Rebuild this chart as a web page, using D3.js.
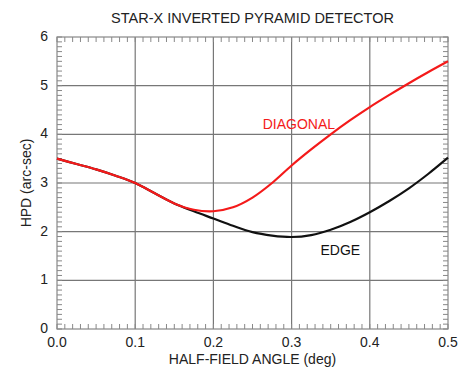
<!DOCTYPE html>
<html lang="en">
<head>
<meta charset="utf-8">
<title>STAR-X inverted pyramid detector</title>
<style>
  body { margin: 0; background: #fff; }
  svg text { font-family: "Liberation Sans", Arial, Helvetica, sans-serif; fill: #222; }
  .grid line { stroke: #777; stroke-width: 1.2; }
  .minor line { stroke: #888; stroke-width: 1; }
  .frame { fill: none; stroke: #888; stroke-width: 1.2; }
  .curve { fill: none; stroke-width: 2.2; }
</style>
</head>
<body>
<div id="chart"></div>
<script src="https://cdn.jsdelivr.net/npm/d3@7"></script>
<script>
// half-field angle (deg)
var angles = [0, 0.025, 0.05, 0.075, 0.1, 0.125, 0.15, 0.175, 0.2, 0.225, 0.25,
              0.275, 0.3, 0.325, 0.35, 0.375, 0.4, 0.425, 0.45, 0.475, 0.5];
// HPD (arc-sec)
var diagonal = [3.50, 3.39, 3.28, 3.15, 3.00, 2.79, 2.58, 2.45, 2.42, 2.50, 2.70,
                3.00, 3.36, 3.69, 4.00, 4.29, 4.56, 4.81, 5.05, 5.28, 5.50];
var edge = [3.50, 3.39, 3.28, 3.15, 3.00, 2.79, 2.58, 2.42, 2.27, 2.12, 1.99,
            1.92, 1.89, 1.93, 2.04, 2.20, 2.40, 2.63, 2.89, 3.19, 3.52];

var xTicks = [0, 0.1, 0.2, 0.3, 0.4, 0.5];
var yTicks = [0, 1, 2, 3, 4, 5, 6];

var W = 467, H = 368;
var margin = {top: 37, right: 19, bottom: 39, left: 57};
var width = W - margin.left - margin.right,
    height = H - margin.top - margin.bottom;

var svg = d3.select("#chart").append("svg")
  .attr("width", W).attr("height", H);
svg.append("rect").attr("width", W).attr("height", H).attr("fill", "#fff");

var g = svg.append("g")
  .attr("transform", "translate(" + margin.left + "," + margin.top + ")");

var x = d3.scaleLinear().domain([0, 0.5]).range([0, width]);
var y = d3.scaleLinear().domain([0, 6]).range([height, 0]);

// major grid lines
var grid = g.append("g").attr("class", "grid");
grid.selectAll(".gx").data(xTicks.slice(1, -1)).enter().append("line")
  .attr("x1", function(d) { return x(d); }).attr("x2", function(d) { return x(d); })
  .attr("y1", 0).attr("y2", height);
grid.selectAll(".gy").data(yTicks.slice(1, -1)).enter().append("line")
  .attr("y1", function(d) { return y(d); }).attr("y2", function(d) { return y(d); })
  .attr("x1", 0).attr("x2", width);

// minor ticks on all four sides
var tl = 5;
var minorX = d3.range(0, 51).map(function(i) { return i / 100; });
var minorY = d3.range(0, 61).map(function(i) { return i / 10; });
var minor = g.append("g").attr("class", "minor");
minor.selectAll(".mb").data(minorX).enter().append("line")
  .attr("x1", function(d) { return x(d); }).attr("x2", function(d) { return x(d); })
  .attr("y1", height).attr("y2", height - tl);
minor.selectAll(".mt").data(minorX).enter().append("line")
  .attr("x1", function(d) { return x(d); }).attr("x2", function(d) { return x(d); })
  .attr("y1", 0).attr("y2", tl);
minor.selectAll(".ml").data(minorY).enter().append("line")
  .attr("y1", function(d) { return y(d); }).attr("y2", function(d) { return y(d); })
  .attr("x1", 0).attr("x2", tl);
minor.selectAll(".mr").data(minorY).enter().append("line")
  .attr("y1", function(d) { return y(d); }).attr("y2", function(d) { return y(d); })
  .attr("x1", width).attr("x2", width - tl);

g.append("rect").attr("class", "frame")
  .attr("width", width).attr("height", height);

// tick labels
g.selectAll(".xl").data(xTicks).enter().append("text")
  .attr("x", function(d) { return x(d); })
  .attr("y", height + 18)
  .attr("text-anchor", "middle")
  .style("font-size", "14px")
  .text(function(d) { return d3.format(".1f")(d); });

g.selectAll(".yl").data(yTicks).enter().append("text")
  .attr("x", -9)
  .attr("y", function(d) { return y(d) + 4; })
  .attr("text-anchor", "end")
  .style("font-size", "14px")
  .text(function(d) { return d; });

// curves
var line = d3.line()
  .x(function(d) { return x(d[0]); })
  .y(function(d) { return y(d[1]); })
  .curve(d3.curveCatmullRom);

g.append("path").attr("class", "curve")
  .datum(d3.zip(angles, edge))
  .attr("stroke", "#111").attr("d", line);
g.append("path").attr("class", "curve")
  .datum(d3.zip(angles, diagonal))
  .attr("stroke", "#f41a1a").attr("d", line);

// curve labels
g.append("text").attr("x", x(0.263)).attr("y", y(4.1))
  .style("font-size", "14px").style("fill", "#f41a1a")
  .text("DIAGONAL");
g.append("text").attr("x", x(0.337)).attr("y", y(1.52))
  .style("font-size", "14px").style("fill", "#111")
  .text("EDGE");

// titles
svg.append("text")
  .attr("x", margin.left + width / 2).attr("y", 23)
  .attr("text-anchor", "middle")
  .style("font-size", "14.5px")
  .text("STAR-X INVERTED PYRAMID DETECTOR");

svg.append("text")
  .attr("x", margin.left + width / 2).attr("y", 364)
  .attr("text-anchor", "middle")
  .style("font-size", "14px")
  .text("HALF-FIELD ANGLE (deg)");

svg.append("text")
  .attr("transform", "translate(31," + (margin.top + height / 2) + ") rotate(-90)")
  .attr("text-anchor", "middle")
  .style("font-size", "14px")
  .text("HPD (arc-sec)");
</script>
</body>
</html>
